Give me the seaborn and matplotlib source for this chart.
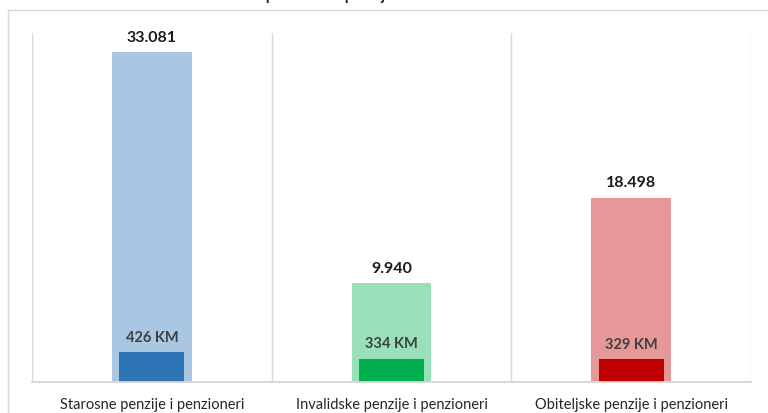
import matplotlib
matplotlib.use("Agg")
import matplotlib.pyplot as plt
import seaborn as sns
from matplotlib.patches import Rectangle

categories = ["Starosne penzije i penzioneri", "Invalidske penzije i penzioneri", "Obiteljske penzije i penzioneri"]
pensioners = [33081, 9940, 18498]
avg_pension = [426, 334, 329]
pensioner_labels = ["33.081", "9.940", "18.498"]
pension_labels = ["426 KM", "334 KM", "329 KM"]
title = "Penzioneri po vrstama penzija"

light_colors = ["#A9C6E2", "#99E0B9", "#E69898"]
dark_colors = ["#2E75B6", "#00B050", "#C00000"]

sns.set_theme(style="white")
plt.rcParams["font.family"] = ["Lato", "DejaVu Sans"]

fig = plt.figure(figsize=(7.68, 4.14), dpi=100)
W, H = 768, 414
ax = fig.add_axes([32 / W, 1 - 383 / H, (751 - 32) / W, (383 - 34) / H])

# outer chart frame (right edge runs off the image)
fig.patches.append(Rectangle((8 / W, -0.1), 1.2, 1.1 - 11 / H, transform=fig.transFigure,
                             fill=False, edgecolor="#d9d9d9", linewidth=1.0))

sns.barplot(x=categories, y=pensioners, hue=categories, palette=light_colors,
            width=0.333, legend=False, ax=ax, saturation=1, linewidth=0)
ax.set_ylim(0, 35000)
ax.set_xlim(-0.5, 2.5)

ax2 = ax.twinx()
sns.barplot(x=categories, y=avg_pension, hue=categories, palette=dark_colors,
            width=0.27, legend=False, ax=ax2, saturation=1, linewidth=0)
ax2.set_ylim(0, 5000)
ax2.set_xlim(-0.5, 2.5)

for a in (ax, ax2):
    a.set_yticks([])
    a.set_ylabel("")
    for s in ("top", "left", "right"):
        a.spines[s].set_visible(False)
    a.spines["bottom"].set_color("#d9d9d9")

for xb in [-0.5, 0.5, 1.5, 2.5]:
    ax.axvline(xb, color="#d9d9d9", linewidth=1.0, zorder=0)

for i, (v, lab) in enumerate(zip(pensioners, pensioner_labels)):
    ax.annotate(lab, (i, v), xytext=(0, 6), textcoords="offset points",
                ha="center", va="bottom", fontsize=11.5, fontweight="bold", color="#1a1a1a")
for i, (v, lab) in enumerate(zip(avg_pension, pension_labels)):
    ax2.annotate(lab, (i, v), xytext=(0, 6), textcoords="offset points",
                 ha="center", va="bottom", fontsize=10.5, fontweight="bold", color="#404040")

ax.set_xticks(range(len(categories)))
ax.set_xticklabels(categories, fontsize=10.5, color="#262626")
ax.tick_params(axis="x", length=0, pad=11)
ax2.tick_params(axis="x", length=0, labelbottom=False)

# title sits mostly above the visible area, as in the source image
fig.text(190 / W, 1.0, title, ha="left", va="baseline", fontsize=11,
         fontweight="bold", color="#262626")

fig.savefig("out.png", dpi=100)
